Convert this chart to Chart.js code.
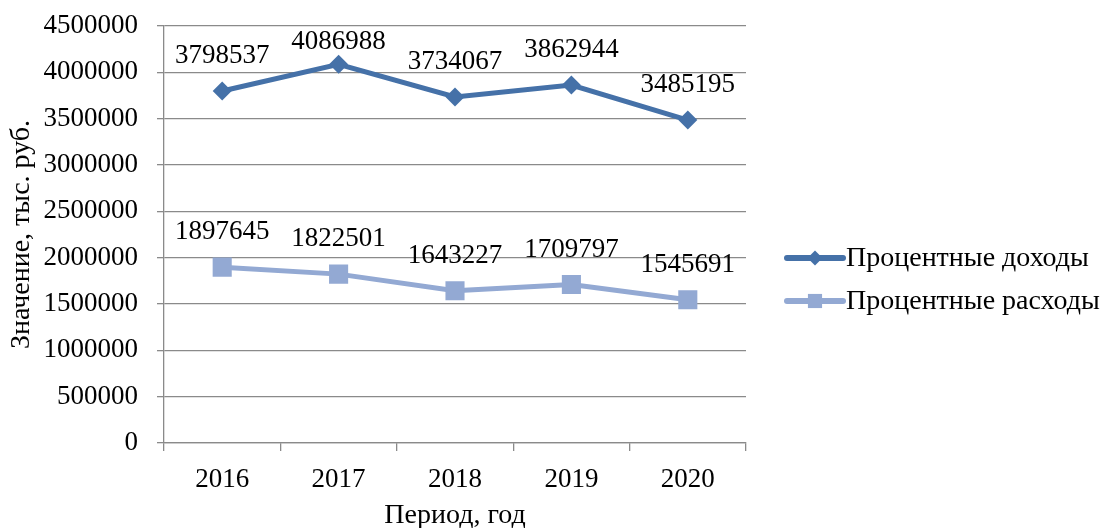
<!DOCTYPE html>
<html>
<head>
<meta charset="utf-8">
<script src="https://cdn.jsdelivr.net/npm/chart.js@4/dist/chart.umd.min.js"></script>
<style>
  html, body { margin: 0; background: #fff; }
</style>
</head>
<body>
<canvas id="c" width="1106" height="528"></canvas>
<script>
const years = ['2016', '2017', '2018', '2019', '2020'];
const income = [3798537, 4086988, 3734067, 3862944, 3485195];
const expense = [1897645, 1822501, 1643227, 1709797, 1545691];
const seriesNames = ['Процентные доходы', 'Процентные расходы'];
const yMax = 4500000;
const yStep = 500000;

const FONT = '"Liberation Serif", "Times New Roman", serif';
const GRID = '#8a8a8a';
const DARK = '#4571a8';
const LIGHT = '#93a9d3';

// numbers above every point, kept inside the plot area
const valueLabels = {
  id: 'valueLabels',
  afterDatasetsDraw(chart) {
    const { ctx, chartArea } = chart;
    ctx.save();
    ctx.font = '27px ' + FONT;
    ctx.fillStyle = '#000';
    ctx.textAlign = 'center';
    ctx.textBaseline = 'middle';
    chart.data.datasets.forEach((ds, i) => {
      chart.getDatasetMeta(i).data.forEach((pt, j) => {
        const y = Math.max(pt.y - 35, chartArea.top + 16);
        ctx.fillText(String(ds.data[j]), pt.x, y);
      });
    });
    ctx.restore();
  }
};

// legend on the right: line sample with marker, then the name
const sideLegend = {
  id: 'sideLegend',
  afterDraw(chart) {
    const { ctx, chartArea } = chart;
    const x0 = chartArea.right + 41;
    const x1 = x0 + 56;
    const rows = [258, 301];
    const marks = [7.5, 10];
    ctx.save();
    chart.data.datasets.forEach((ds, i) => {
      const y = rows[i];
      ctx.strokeStyle = ds.borderColor;
      ctx.lineWidth = 6;
      ctx.lineCap = 'round';
      ctx.beginPath();
      ctx.moveTo(x0, y);
      ctx.lineTo(x1, y);
      ctx.stroke();
      ctx.fillStyle = ds.backgroundColor;
      Chart.helpers.drawPoint(ctx, {
        pointStyle: ds.pointStyle,
        radius: marks[i],
        rotation: 0,
        borderWidth: 0
      }, (x0 + x1) / 2, y);
      ctx.fillStyle = '#000';
      ctx.font = '28px ' + FONT;
      ctx.textAlign = 'left';
      ctx.textBaseline = 'middle';
      ctx.fillText(ds.label, x1 + 3, y + 1);
    });
    ctx.restore();
  }
};

new Chart(document.getElementById('c'), {
  type: 'line',
  data: {
    labels: years,
    datasets: [
      {
        label: seriesNames[0],
        data: income,
        borderColor: DARK,
        backgroundColor: DARK,
        borderWidth: 5,
        pointStyle: 'rectRot',
        pointRadius: 9.5,
        pointBorderWidth: 0,
        pointBackgroundColor: DARK,
        tension: 0
      },
      {
        label: seriesNames[1],
        data: expense,
        borderColor: LIGHT,
        backgroundColor: LIGHT,
        borderWidth: 5,
        pointStyle: 'rect',
        pointRadius: 13.5,
        pointBorderWidth: 0,
        pointBackgroundColor: LIGHT,
        tension: 0
      }
    ]
  },
  options: {
    responsive: false,
    animation: false,
    devicePixelRatio: 1,
    layout: { padding: { left: 0, top: 26, right: 360, bottom: 0 } },
    plugins: {
      legend: { display: false },
      tooltip: { enabled: false }
    },
    scales: {
      x: {
        type: 'category',
        offset: true,
        afterFit: s => { s.height = 85; },
        grid: { offset: true, drawOnChartArea: false, color: GRID, lineWidth: 1.3, tickLength: 8 },
        border: { color: GRID, width: 1.3 },
        ticks: { color: '#000', font: { family: FONT, size: 27 }, padding: 13, maxRotation: 0 },
        title: {
          display: true,
          text: 'Период, год',
          color: '#000',
          font: { family: FONT, size: 28, lineHeight: 0.86 },
          padding: { top: 0, bottom: 0 }
        }
      },
      y: {
        min: 0,
        max: yMax,
        afterFit: s => {
          s.width = 164;
          s.paddingTop = 0;
          s.paddingBottom = 0;
        },
        grid: { color: GRID, lineWidth: 1.3, tickLength: 7 },
        border: { color: GRID, width: 1.3 },
        ticks: {
          stepSize: yStep,
          color: '#000',
          font: { family: FONT, size: 27 },
          padding: 19,
          callback: v => String(v)
        },
        title: {
          display: true,
          text: 'Значение, тыс. руб.',
          color: '#000',
          font: { family: FONT, size: 28, lineHeight: 1.2 },
          padding: { top: 5, bottom: 0 }
        }
      }
    }
  },
  plugins: [valueLabels, sideLegend]
});
</script>
</body>
</html>
